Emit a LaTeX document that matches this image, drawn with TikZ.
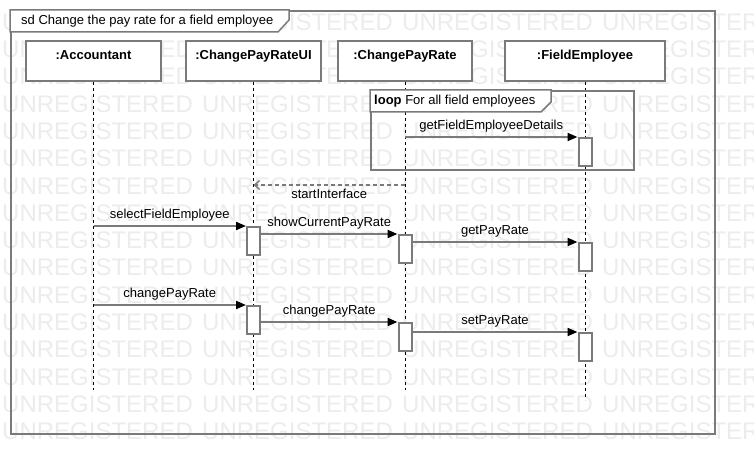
\documentclass[tikz,border=0pt]{standalone}
\usepackage{fontspec}
\setmainfont{Liberation Sans}
\usepackage{xcolor}
\usepackage{tikz}
\usetikzlibrary{arrows.meta, positioning}
\definecolor{umlgray}{HTML}{7A7A7A}
\definecolor{wmgray}{HTML}{ECECEC}

\begin{document}
\begin{tikzpicture}[x=1pt, y=-1pt,
    font=\fontsize{13}{15}\selectfont,
    head/.style={draw=umlgray, line width=2pt, fill=white, rectangle, minimum height=40, inner ysep=4pt, text height=15pt, text depth=17pt, font=\fontsize{13}{15}\selectfont\bfseries},
    act/.style={draw=umlgray, line width=2pt, fill=white, rectangle, minimum width=13, minimum height=28, inner sep=0pt, anchor=north},
    lifeline/.style={black, line width=0.8pt, dash pattern=on 3pt off 3pt},
    msg/.style={umlgray, line width=2pt, -{Triangle[length=10pt, width=8pt, color=black]}},
    reply/.style={umlgray, line width=1.5pt, dash pattern=on 4pt off 3pt, -{Straight Barb[length=5pt, width=9pt]}},
    tab/.style={draw=umlgray, line width=1.5pt, fill=white},
    wm/.style={wmgray, font=\fontsize{24}{24}\selectfont, anchor=west, inner sep=0pt}
]
\useasboundingbox (0,0) rectangle (754,473);

\begin{scope}
\clip (0,0) rectangle (754,473);
\foreach \r in {0,...,15}
  \foreach \c in {0,...,3}
    \node[wm] (wm-\r-\c) at (2+200*\c, 22+27.3*\r) {UNREGISTERED};
\end{scope}

\node[draw=umlgray, line width=2pt, minimum width=704, minimum height=423, anchor=north west, inner sep=0pt] (frame) at (10,10) {};
\draw[tab] (frame.north west) -- ++(279,0) -- ++(0,10) -- ++(-11,12) -- ++(-268,0) -- cycle;
\node[anchor=west, inner sep=0pt] (title) at ([shift={(11,11)}]frame.north west) {sd Change the pay rate for a field employee};

\node[head, minimum width=135] (acc) at (93.5,61) {:Accountant};
\node[head, minimum width=135, right=23pt of acc] (ui) {:ChangePayRateUI};
\node[head, minimum width=134, right=15pt of ui] (cpr) {:ChangePayRate};
\node[head, minimum width=160, right=31pt of cpr] (fe) {:FieldEmployee};

\coordinate (acc end) at (acc.south |- 0,390);
\coordinate (ui end) at (ui.south |- 0,390);
\coordinate (cpr end) at (cpr.south |- 0,390);
\coordinate (fe end) at (fe.south |- 0,400);
\draw[lifeline] (acc.south) -- (acc end);
\draw[lifeline] (ui.south) -- (ui end);
\draw[lifeline] (cpr.south) -- (cpr end);
\draw[lifeline] (fe.south) -- (fe end);

\node[draw=umlgray, line width=2pt, minimum width=263, minimum height=79, anchor=north west, inner sep=0pt] (loop) at (370,90) {};
\draw[tab] (loop.north west) -- ++(181,0) -- ++(0,12) -- ++(-10,10) -- ++(-171,0) -- cycle;
\node[anchor=west, inner sep=0pt] (loop label) at ([shift={(4,11)}]loop.north west) {\textbf{loop} For all field employees};

\node[act] (fe act1) at (fe.south |- 0,137) {};
\node[act] (ui act1) at (ui.south |- 0,226) {};
\node[act] (cpr act1) at (cpr.south |- 0,234) {};
\node[act] (fe act2) at (fe.south |- 0,242) {};
\node[act] (ui act2) at (ui.south |- 0,305) {};
\node[act] (cpr act2) at (cpr.south |- 0,322) {};
\node[act] (fe act3) at (fe.south |- 0,332) {};

\coordinate (si start) at (cpr.south |- 0,185);
\coordinate (si end) at (ui.south |- 0,185);

\draw[msg] (cpr.south |- fe act1.north) -- node[above, black] {getFieldEmployeeDetails} (fe act1.north west);
\draw[reply] (si start) -- node[below, black] {startInterface} (si end);
\draw[msg] (acc.south |- ui act1.north) -- node[above, black] {selectFieldEmployee} (ui act1.north west);
\draw[msg] (ui act1.east |- cpr act1.north) -- node[above, black] {showCurrentPayRate} (cpr act1.north west);
\draw[msg] (cpr act1.east |- fe act2.north) -- node[above, black] {getPayRate} (fe act2.north west);
\draw[msg] (acc.south |- ui act2.north) -- node[above, black] {changePayRate} (ui act2.north west);
\draw[msg] (ui act2.east |- cpr act2.north) -- node[above, black] {changePayRate} (cpr act2.north west);
\draw[msg] (cpr act2.east |- fe act3.north) -- node[above, black] {setPayRate} (fe act3.north west);

\end{tikzpicture}
\end{document}
